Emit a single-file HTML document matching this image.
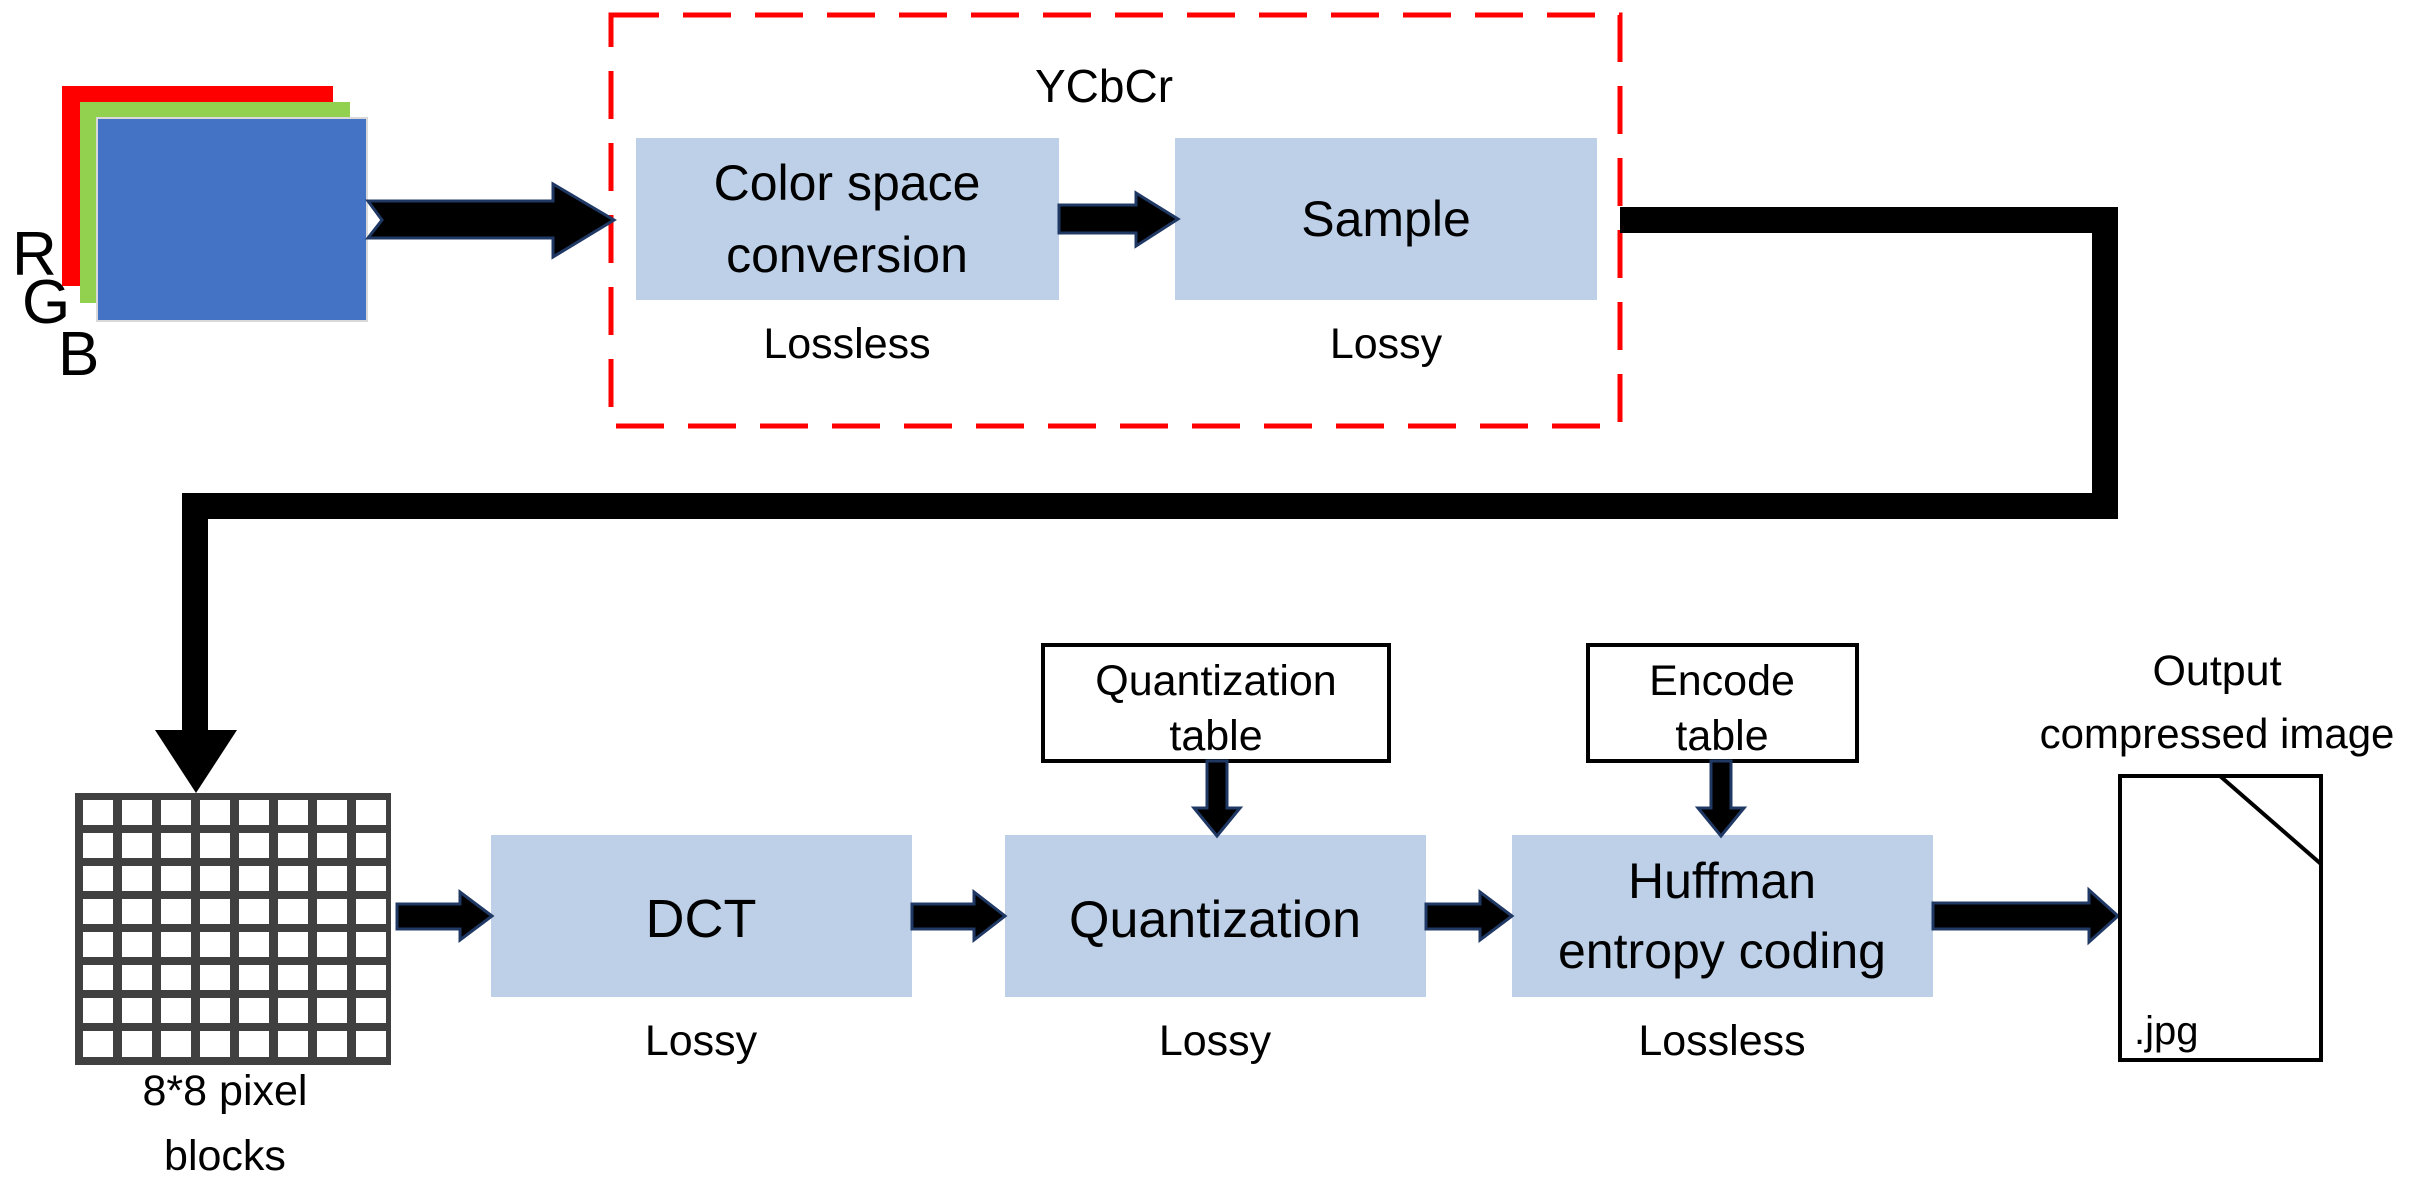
<!DOCTYPE html>
<html><head><meta charset="utf-8"><style>
html,body{margin:0;padding:0;background:#fff;}
svg{display:block;}
text{font-family:"Liberation Sans",sans-serif;fill:#000;}
</style></head><body>
<svg width="2432" height="1180" viewBox="0 0 2432 1180" xmlns="http://www.w3.org/2000/svg">
<rect x="62" y="86" width="271" height="200" fill="#ff0000"/>
<rect x="80" y="102" width="270" height="201" fill="#92d050"/>
<rect x="97" y="118" width="270" height="203" fill="#4472c4" stroke="#d9d9d9" stroke-width="2"/>
<text x="12" y="275" font-size="62">R</text>
<text x="22" y="323" font-size="62">G</text>
<text x="58" y="375" font-size="62">B</text>

<rect x="611" y="15" width="1009" height="411" fill="none" stroke="#ff0000" stroke-width="5" stroke-dasharray="48 24"/>
<text x="1104" y="102" font-size="46" text-anchor="middle">YCbCr</text>
<rect x="636" y="138" width="423" height="162" fill="#bdd0e8"/>
<rect x="1175" y="138" width="422" height="162" fill="#bdd0e8"/>
<text x="847" y="200" font-size="50" text-anchor="middle">Color space</text>
<text x="847" y="272" font-size="50" text-anchor="middle">conversion</text>
<text x="1386" y="236" font-size="50" text-anchor="middle">Sample</text>
<text x="847" y="358" font-size="43" text-anchor="middle">Lossless</text>
<text x="1386" y="358" font-size="43" text-anchor="middle">Lossy</text>

<path d="M368,201 L553,201 L553,184 L614,220 L553,257 L553,238 L368,238 L382,220 Z" fill="#000" stroke="#1f3864" stroke-width="3"/>
<path d="M1059,205 L1136,205 L1136,193 L1178,219 L1136,246 L1136,233 L1059,233 Z" fill="#000" stroke="#1f3864" stroke-width="3"/>

<polyline points="1620,220 2105,220 2105,506 195,506 195,735" fill="none" stroke="#000" stroke-width="26"/>
<polygon points="155,730 237,730 196,793" fill="#000"/>

<rect x="75" y="793" width="316" height="272" fill="#404040"/>

<rect x="491" y="835" width="421" height="162" fill="#bdd0e8"/>
<rect x="1005" y="835" width="421" height="162" fill="#bdd0e8"/>
<rect x="1512" y="835" width="421" height="162" fill="#bdd0e8"/>
<text x="701" y="937" font-size="54" text-anchor="middle">DCT</text>
<text x="1215" y="937" font-size="52" text-anchor="middle">Quantization</text>
<text x="1722" y="898" font-size="50" text-anchor="middle">Huffman</text>
<text x="1722" y="968" font-size="50" text-anchor="middle">entropy coding</text>
<text x="701" y="1055" font-size="43" text-anchor="middle">Lossy</text>
<text x="1215" y="1055" font-size="43" text-anchor="middle">Lossy</text>
<text x="1722" y="1055" font-size="43" text-anchor="middle">Lossless</text>
<text x="225" y="1105" font-size="43" text-anchor="middle">8*8 pixel</text>
<text x="225" y="1170" font-size="43" text-anchor="middle">blocks</text>

<rect x="1043" y="645" width="346" height="116" fill="#fff" stroke="#000" stroke-width="4"/>
<rect x="1588" y="645" width="269" height="116" fill="#fff" stroke="#000" stroke-width="4"/>
<text x="1216" y="695" font-size="43" text-anchor="middle">Quantization</text>
<text x="1216" y="750" font-size="43" text-anchor="middle">table</text>
<text x="1722" y="695" font-size="43" text-anchor="middle">Encode</text>
<text x="1722" y="750" font-size="43" text-anchor="middle">table</text>

<path d="M1207,761 L1227,761 L1227,808 L1240,808 L1217,836 L1194,808 L1207,808 Z" fill="#000" stroke="#1f3864" stroke-width="3"/>
<path d="M1711,761 L1731,761 L1731,808 L1744,808 L1721,836 L1698,808 L1711,808 Z" fill="#000" stroke="#1f3864" stroke-width="3"/>

<path d="M397,904 L460,904 L460,892 L492,916 L460,940 L460,929 L397,929 Z" fill="#000" stroke="#1f3864" stroke-width="3"/>
<path d="M912,904 L974,904 L974,892 L1005,916 L974,940 L974,929 L912,929 Z" fill="#000" stroke="#1f3864" stroke-width="3"/>
<path d="M1426,904 L1480,904 L1480,892 L1512,916 L1480,940 L1480,929 L1426,929 Z" fill="#000" stroke="#1f3864" stroke-width="3"/>
<path d="M1933,903 L2089,903 L2089,890 L2118,916 L2089,942 L2089,929 L1933,929 Z" fill="#000" stroke="#1f3864" stroke-width="3"/>

<rect x="2120" y="776" width="201" height="284" fill="#fff" stroke="#000" stroke-width="4"/>
<line x1="2220" y1="776" x2="2321" y2="864" stroke="#000" stroke-width="4"/>
<text x="2134" y="1044" font-size="40">.jpg</text>
<text x="2217" y="685" font-size="43" text-anchor="middle">Output</text>
<text x="2217" y="748" font-size="42" text-anchor="middle">compressed image</text>

<g fill="#fff">
<rect x="83" y="800" width="30" height="25"/><rect x="122" y="800" width="30" height="25"/><rect x="161" y="800" width="30" height="25"/><rect x="200" y="800" width="30" height="25"/><rect x="239" y="800" width="30" height="25"/><rect x="278" y="800" width="30" height="25"/><rect x="317" y="800" width="30" height="25"/><rect x="356" y="800" width="30" height="25"/>
<rect x="83" y="833" width="30" height="25"/><rect x="122" y="833" width="30" height="25"/><rect x="161" y="833" width="30" height="25"/><rect x="200" y="833" width="30" height="25"/><rect x="239" y="833" width="30" height="25"/><rect x="278" y="833" width="30" height="25"/><rect x="317" y="833" width="30" height="25"/><rect x="356" y="833" width="30" height="25"/>
<rect x="83" y="866" width="30" height="25"/><rect x="122" y="866" width="30" height="25"/><rect x="161" y="866" width="30" height="25"/><rect x="200" y="866" width="30" height="25"/><rect x="239" y="866" width="30" height="25"/><rect x="278" y="866" width="30" height="25"/><rect x="317" y="866" width="30" height="25"/><rect x="356" y="866" width="30" height="25"/>
<rect x="83" y="899" width="30" height="25"/><rect x="122" y="899" width="30" height="25"/><rect x="161" y="899" width="30" height="25"/><rect x="200" y="899" width="30" height="25"/><rect x="239" y="899" width="30" height="25"/><rect x="278" y="899" width="30" height="25"/><rect x="317" y="899" width="30" height="25"/><rect x="356" y="899" width="30" height="25"/>
<rect x="83" y="932" width="30" height="25"/><rect x="122" y="932" width="30" height="25"/><rect x="161" y="932" width="30" height="25"/><rect x="200" y="932" width="30" height="25"/><rect x="239" y="932" width="30" height="25"/><rect x="278" y="932" width="30" height="25"/><rect x="317" y="932" width="30" height="25"/><rect x="356" y="932" width="30" height="25"/>
<rect x="83" y="965" width="30" height="25"/><rect x="122" y="965" width="30" height="25"/><rect x="161" y="965" width="30" height="25"/><rect x="200" y="965" width="30" height="25"/><rect x="239" y="965" width="30" height="25"/><rect x="278" y="965" width="30" height="25"/><rect x="317" y="965" width="30" height="25"/><rect x="356" y="965" width="30" height="25"/>
<rect x="83" y="998" width="30" height="25"/><rect x="122" y="998" width="30" height="25"/><rect x="161" y="998" width="30" height="25"/><rect x="200" y="998" width="30" height="25"/><rect x="239" y="998" width="30" height="25"/><rect x="278" y="998" width="30" height="25"/><rect x="317" y="998" width="30" height="25"/><rect x="356" y="998" width="30" height="25"/>
<rect x="83" y="1031" width="30" height="26"/><rect x="122" y="1031" width="30" height="26"/><rect x="161" y="1031" width="30" height="26"/><rect x="200" y="1031" width="30" height="26"/><rect x="239" y="1031" width="30" height="26"/><rect x="278" y="1031" width="30" height="26"/><rect x="317" y="1031" width="30" height="26"/><rect x="356" y="1031" width="30" height="26"/>
</g>
</svg>
</body></html>
